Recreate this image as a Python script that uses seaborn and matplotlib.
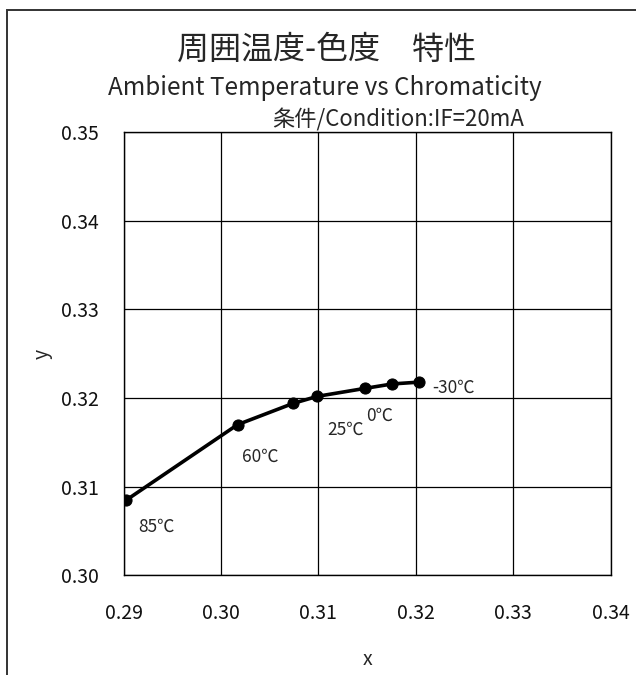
import matplotlib
matplotlib.use("Agg")
import matplotlib.pyplot as plt
import seaborn as sns
import pandas as pd
from matplotlib.patches import Rectangle

# Chromaticity coordinates measured at each ambient temperature
temps = ["85℃", "60℃", "", "25℃", "0℃", "", "-30℃"]
cie_x = [0.2903, 0.3017, 0.3074, 0.3099, 0.3148, 0.3176, 0.3203]
cie_y = [0.3085, 0.3170, 0.3194, 0.3202, 0.3211, 0.3216, 0.3218]
x_ticks = [0.29, 0.30, 0.31, 0.32, 0.33, 0.34]
y_ticks = [0.30, 0.31, 0.32, 0.33, 0.34, 0.35]

df = pd.DataFrame({"x": cie_x, "y": cie_y, "temp": temps})

sns.set_theme(style="white")
plt.rcParams["font.family"] = ["Noto Sans CJK JP", "DejaVu Sans"]

W, H = 636, 675
fig = plt.figure(figsize=(W / 100, H / 100), dpi=100)
ax = fig.add_axes([123.5 / W, 1 - 575.3 / H, (610.7 - 123.5) / W, (575.3 - 132.3) / H])

sns.lineplot(data=df, x="x", y="y", sort=False, color="black", linewidth=2.6,
             marker="o", markersize=8, markeredgecolor="black", ax=ax)

ax.set_xlim(x_ticks[0], x_ticks[-1])
ax.set_ylim(y_ticks[0], y_ticks[-1])
ax.set_xticks(x_ticks)
ax.set_yticks(y_ticks)
ax.set_xticklabels([f"{v:.2f}" for v in x_ticks], fontsize=14)
ax.set_yticklabels([f"{v:.2f}" for v in y_ticks], fontsize=14)
ax.tick_params(axis="x", pad=20, length=0, colors="#111111")
ax.tick_params(axis="y", pad=18, length=0, colors="#111111")
ax.grid(True, color="black", linewidth=0.9)
for s in ax.spines.values():
    s.set_color("black")
    s.set_linewidth(1.0)

ax.set_xlabel("x", fontsize=14, labelpad=18)
ax.set_ylabel("y", fontsize=14, labelpad=6)

# Temperature annotations beside the points
offsets = {"85℃": (0.00126, -0.00305), "60℃": (0.0005, -0.0036),
           "25℃": (0.0010, -0.0038), "0℃": (0.0001, -0.0031),
           "-30℃": (0.0014, -0.0006)}
for xv, yv, t in zip(cie_x, cie_y, temps):
    if t:
        dx, dy = offsets[t]
        ax.text(xv + dx, yv + dy, t, fontsize=12.5, ha="left", va="center")

fig.text(327 / W, 1 - 50 / H, "周囲温度-色度\u3000特性", fontsize=23,
         ha="center", va="center")
fig.text(325 / W, 1 - 88 / H, "Ambient Temperature vs Chromaticity", fontsize=17.5,
         ha="center", va="center")
fig.text(272 / W, 1 - 120 / H, "条件/Condition:IF=20mA", fontsize=16,
         ha="left", va="center")

# Page frame around the chart
fig.patches.append(Rectangle((7 / W, -0.1), 2.0, 1 - 10 / H + 0.1,
                             transform=fig.transFigure, fill=False,
                             edgecolor="#333333", linewidth=1.4))

fig.savefig("out.png", dpi=100, facecolor="white")
